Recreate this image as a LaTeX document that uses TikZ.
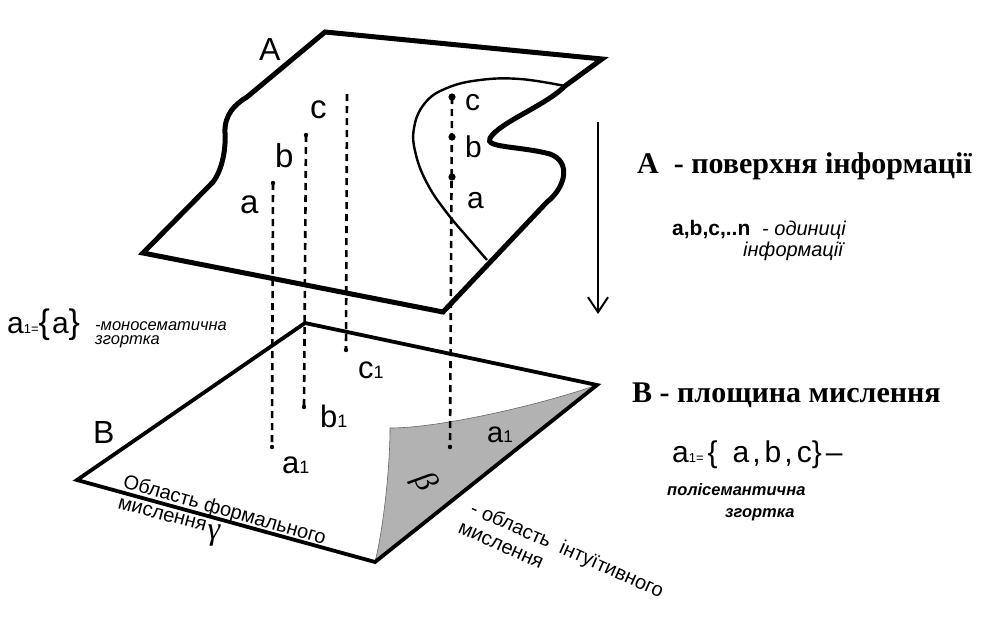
\documentclass[tikz,border=0pt]{standalone}
\usepackage{fontspec}
\setmainfont{Liberation Serif}
\newfontfamily\arialf{Liberation Sans}
\usetikzlibrary{arrows.meta}
\newcommand\fsz[1]{\fontsize{#1}{#1}\selectfont}
\begin{document}
\begin{tikzpicture}[x=1pt,y=-1pt,
  aplane/.style={line width=5pt,line join=miter},
  bplane/.style={line width=3.8pt,line join=miter},
  inner/.style={line width=2.4pt},
  dashline/.style={line width=2.6pt,dash pattern=on 7pt off 5pt},
  lbl/.style={anchor=base west,inner sep=0pt,font=\arialf\fsz{33}},
  sublbl/.style={anchor=base west,inner sep=0pt,font=\arialf\fsz{31}},
  note/.style={anchor=base west,inner sep=0pt},
  graypatch/.style={fill=black!30,draw=black!60,line width=0.6pt}]
\useasboundingbox (0,0) rectangle (1000,621);

% gray region (intuitive thinking)
\path[graypatch] (390,428) .. controls (440,428) and (540,405) .. (597,385) -- (375,562) .. controls (383,530) and (390,470) .. cycle;

% plane B
\draw[bplane] (305,323) -- (597,385) -- (375,562) -- (77,480) -- cycle;

% plane A
\draw[aplane] (325,32) -- (602,59) -- (565,86) .. controls (545,106) and (500,122) .. (490,138) .. controls (484,148) and (520,146) .. (550,154) .. controls (572,162) and (565,188) .. (547,202) -- (443,312) -- (143,253) -- (213,182) .. controls (222,170) and (226,150) .. (225,133) .. controls (224,115) and (235,104) .. (247,97) -- cycle;

% inner curve on A
\draw[inner] plot[smooth,tension=0.7] coordinates {(565,86) (520,79) (480,80) (447,88) (425,103) (414,128) (416,155) (428,185) (447,213) (468,238) (487,260)};

% points
\coordinate (aT) at (273,183); \coordinate (aB) at (272,447);
\coordinate (bT) at (306,135); \coordinate (bB) at (304,407);
\coordinate (cT) at (347,94);  \coordinate (cB) at (346,350);
\coordinate (rc) at (452,97);  \coordinate (rb) at (452,137);
\coordinate (ra) at (452,177); \coordinate (rB) at (450,447);

\draw[dashline] (aT) -- (aB);
\draw[dashline] (bT) -- (bB);
\draw[dashline] (cT) -- (cB);
\draw[dashline] (rc) -- (rB);
\foreach \p in {aT,aB,bT,bB,cB,rB} \fill (\p) circle (2.2pt);
\foreach \p in {rc,rb,ra} \fill (\p) circle (3.6pt);

% arrow
\coordinate (arrT) at (598,122); \coordinate (arrB) at (598,314);
\draw[line width=2pt,-{Straight Barb[length=15pt,width=20pt,line width=2pt]}] (arrT) -- (arrB);

% labels on A
\node[lbl,font=\arialf\fsz{32}] (labA) at (259,60) {A};
\node[lbl] (la) at (240,213) {a};
\node[lbl] (lb) at (275,167) {b};
\node[lbl] (lc) at (310,118) {c};
\node[lbl,font=\arialf\fsz{30}] (rlc) at (465,110) {c};
\node[lbl,font=\arialf\fsz{30}] (rlb) at (465,157) {b};
\node[lbl,font=\arialf\fsz{30}] (rla) at (467,208) {a};

% labels on B
\node[lbl,font=\arialf\fsz{32}] (labB) at (93,443) {B};
\node[sublbl] (c1) at (358,378) {c{\fsz{18}1}};
\node[sublbl] (b1) at (320,427) {b{\fsz{18}1}};
\node[sublbl] (a1) at (282,473) {a{\fsz{18}1}};
\node[sublbl,font=\arialf\fsz{29}] (a1g) at (487,442) {a{\fsz{17}1}};
\node[inner sep=0pt,rotate=-60,font=\fsz{32}\itshape] (beta) at (424,482) {β};

\node[note,rotate=-16,font=\arialf\fsz{20}] (formal1) at (122,487) {Область формального};
\node[note,rotate=-15,font=\arialf\fsz{20}] (formal2) at (117,508) {мислення};
\node[inner sep=0pt,font=\fsz{32}\itshape] (gamma) at (214,536) {γ};
\node[note,rotate=-24,font=\arialf\fsz{20}] (intu1) at (469,513) {- область\ \ інтуїтивного};
\node[note,rotate=-24,font=\arialf\fsz{20}] (intu2) at (457,532) {мислення};

% left formula
\node[note,font=\arialf\fsz{30}] (mono) at (7,333) {a{\fsz{13}1=}{\fsz{34}\{}\hspace{2pt}a{\fsz{34}\}}};
\node[note,font=\arialf\itshape\fsz{16.5}] (mono1) at (95,330) {-моносематична};
\node[note,font=\arialf\itshape\fsz{16.5}] (mono2) at (95,344) {згортка};

% right texts
\node[note,font=\fsz{30}\bfseries] (titA) at (637,173) {A\ \ - поверхня інформації};
\node[note,font=\arialf\bfseries\fsz{21}] (units) at (672,235) {a,b,c,..n};
\node[note,font=\arialf\itshape\fsz{20}] (units1) at (762,235) {- одиниці};
\node[note,font=\arialf\itshape\fsz{20}] (units2) at (743,256) {інформації};

\node[note,font=\fsz{30}\bfseries] (titB) at (632,402) {B - площина мислення};
\node[note,font=\arialf\fsz{30}] (poly) at (672,462) {a{\fsz{13}1=}\hspace{4pt}\{\hspace{15pt}a\hspace{3pt},\hspace{4pt}b\hspace{3pt},\hspace{4pt}c\}\hspace{4pt}–};
\node[note,font=\arialf\bfseries\itshape\fsz{16.5}] (poly1) at (667,495) {полісемантична};
\node[note,font=\arialf\bfseries\itshape\fsz{16.5}] (poly2) at (725,517) {згортка};
\end{tikzpicture}
\end{document}
